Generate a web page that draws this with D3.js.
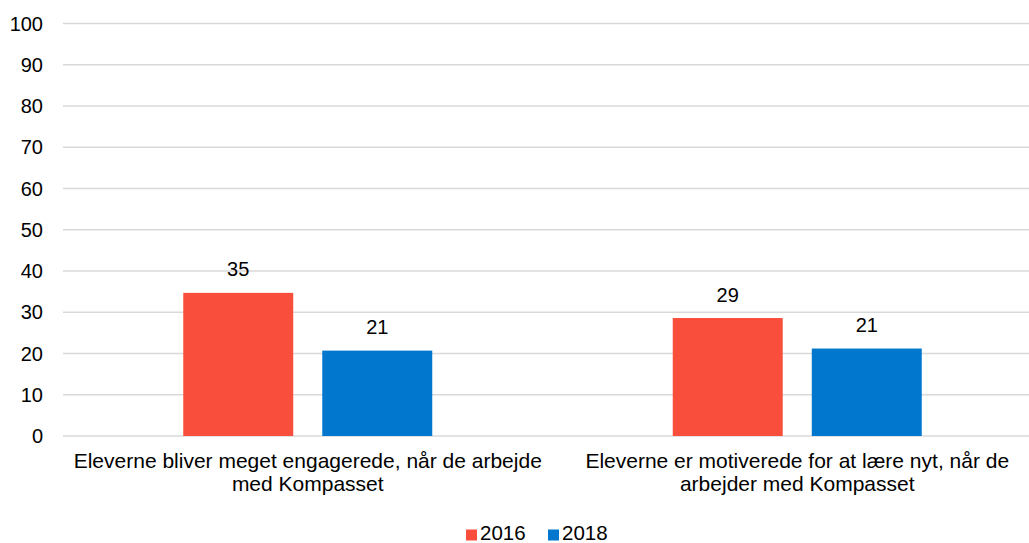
<!DOCTYPE html>
<html><head><meta charset="utf-8">
<script src="https://cdn.jsdelivr.net/npm/d3@7"></script>
<style>body{margin:0;background:#fff}svg{display:block}text{font-family:"Liberation Sans",Arial,sans-serif;fill:#000}</style>
</head><body>
<svg id="c" width="1029" height="543"></svg>
<script>
const categories = [
  ["Eleverne bliver meget engagerede, når de arbejde", "med Kompasset"],
  ["Eleverne er motiverede for at lære nyt, når de", "arbejder med Kompasset"]
];
const seriesNames = ["2016", "2018"];
const values2016 = [34.7, 28.6];
const values2018 = [20.7, 21.2];
const yTicks = [0,10,20,30,40,50,60,70,80,90,100];
const colors = ["#F94E3B", "#0177CE"];

const svg = d3.select("#c");
const W = 1029;
const y = d3.scaleLinear().domain([0,100]).range([436, 23.5]);
const x0 = d3.scaleBand().domain([0,1]).range([63, 1042]);
const x1 = d3.scaleBand().domain(seriesNames).range([0, 249]).paddingInner(0.209);
const groupOffset = (x0.bandwidth() - 249) / 2;

// gridlines
svg.append("g").selectAll("line").data(yTicks).join("line")
  .attr("x1", 63).attr("x2", W)
  .attr("y1", d => y(d)).attr("y2", d => y(d))
  .attr("stroke", "#d9d9d9").attr("stroke-width", 1.5);

// y tick labels
svg.append("g").selectAll("text").data(yTicks).join("text")
  .attr("x", 43).attr("y", d => y(d)).attr("dy", "0.35em")
  .attr("text-anchor", "end").attr("font-size", 20).text(d => d);

const data = [];
categories.forEach((c, i) => {
  data.push({cat: i, s: "2016", v: values2016[i], col: colors[0]});
  data.push({cat: i, s: "2018", v: values2018[i], col: colors[1]});
});

svg.append("g").selectAll("rect").data(data).join("rect")
  .attr("x", d => x0(d.cat) + groupOffset + x1(d.s))
  .attr("width", x1.bandwidth())
  .attr("y", d => y(d.v))
  .attr("height", d => y(0) - y(d.v))
  .attr("fill", d => d.col);

svg.append("g").selectAll("text").data(data).join("text")
  .attr("x", d => x0(d.cat) + groupOffset + x1(d.s) + x1.bandwidth()/2)
  .attr("y", d => y(d.v) - 16.5)
  .attr("text-anchor", "middle").attr("font-size", 20)
  .text(d => d3.format(".0f")(d.v));

// category labels
const cl = svg.append("g").selectAll("text").data(categories).join("text")
  .attr("text-anchor", "middle").attr("font-size", 21);
cl.each(function(lines, i) {
  const t = d3.select(this);
  const cx = x0(i) + x0.bandwidth()/2;
  lines.forEach((ln, j) => {
    t.append("tspan").attr("x", cx).attr("y", 468 + j*23).text(ln);
  });
});

// legend
const leg = svg.append("g");
const legX = [466, 548];
seriesNames.forEach((s, i) => {
  leg.append("rect").attr("x", legX[i]).attr("y", 529.5).attr("width", 11).attr("height", 11).attr("fill", colors[i]);
  leg.append("text").attr("x", legX[i] + 14).attr("y", 539.5).attr("font-size", 20.5).text(s);
});
</script>
</body></html>
